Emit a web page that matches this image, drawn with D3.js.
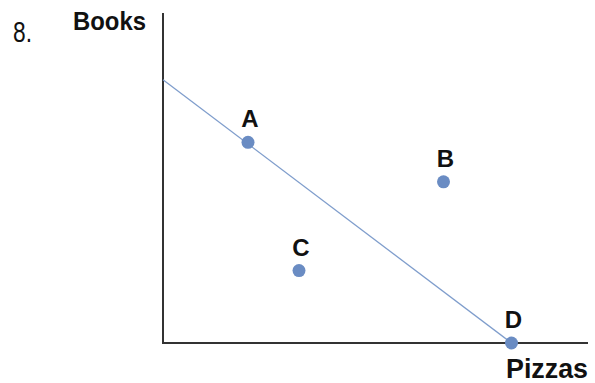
<!DOCTYPE html>
<html>
<head>
<meta charset="utf-8">
<script src="https://cdn.jsdelivr.net/npm/d3@7"></script>
<style>
  body { margin: 0; background: #fff; }
</style>
</head>
<body>
<script>
// budget line and the four bundles
var lineX = [0, 82];
var lineY = [80, 0];
var pointNames = ["A", "B", "C", "D"];
var pointX = [20, 66, 32, 82];
var pointY = [61, 49, 22, 0];

var w = 595, h = 383;

var svg = d3.select("body").append("svg")
  .attr("width", w)
  .attr("height", h);

var x = d3.scaleLinear().domain([0, 100]).range([163, 588]);
var y = d3.scaleLinear().domain([0, 100]).range([343, 14]);

// question number
svg.append("text")
  .attr("x", 13).attr("y", 42)
  .attr("font-family", "Liberation Sans Narrow, Arial Narrow, sans-serif")
  .attr("font-size", 29)
  .attr("textLength", 19)
  .attr("lengthAdjust", "spacingAndGlyphs")
  .attr("fill", "#111")
  .text("8.");

// axes
svg.append("line")
  .attr("x1", x(0)).attr("x2", x(0))
  .attr("y1", y(0) + 1).attr("y2", y(100) - 1)
  .attr("stroke", "#333").attr("stroke-width", 2);
svg.append("line")
  .attr("x1", x(0) - 1).attr("x2", x(100))
  .attr("y1", y(0)).attr("y2", y(0))
  .attr("stroke", "#333").attr("stroke-width", 2);

svg.append("text")
  .attr("x", 73).attr("y", 30)
  .attr("font-family", "Liberation Sans, Arial, sans-serif")
  .attr("font-weight", "bold")
  .attr("font-size", 25)
  .attr("textLength", 73)
  .attr("lengthAdjust", "spacingAndGlyphs")
  .attr("fill", "#111")
  .text("Books");

svg.append("text")
  .attr("x", 506).attr("y", 378)
  .attr("font-family", "Liberation Sans, Arial, sans-serif")
  .attr("font-weight", "bold")
  .attr("font-size", 27)
  .attr("textLength", 82)
  .attr("lengthAdjust", "spacingAndGlyphs")
  .attr("fill", "#111")
  .text("Pizzas");

// budget line
svg.append("line")
  .attr("x1", x(lineX[0])).attr("y1", y(lineY[0]))
  .attr("x2", x(lineX[1])).attr("y2", y(lineY[1]))
  .attr("stroke", "#7f9dcc").attr("stroke-width", 1.3);

var pts = pointNames.map(function(d, i) {
  return {name: d, x: pointX[i], y: pointY[i]};
});

svg.selectAll("circle")
  .data(pts)
  .enter()
  .append("circle")
  .attr("cx", function(d) { return x(d.x); })
  .attr("cy", function(d) { return y(d.y); })
  .attr("r", 6.5)
  .attr("fill", "#6a8cc3");

svg.selectAll("text.lbl")
  .data(pts)
  .enter()
  .append("text")
  .attr("class", "lbl")
  .attr("x", function(d) { return x(d.x) + 2; })
  .attr("y", function(d) { return y(d.y) - 15; })
  .attr("text-anchor", "middle")
  .attr("font-family", "Liberation Sans, Arial, sans-serif")
  .attr("font-weight", "bold")
  .attr("font-size", 24)
  .attr("fill", "#111")
  .text(function(d) { return d.name; });
</script>
</body>
</html>
